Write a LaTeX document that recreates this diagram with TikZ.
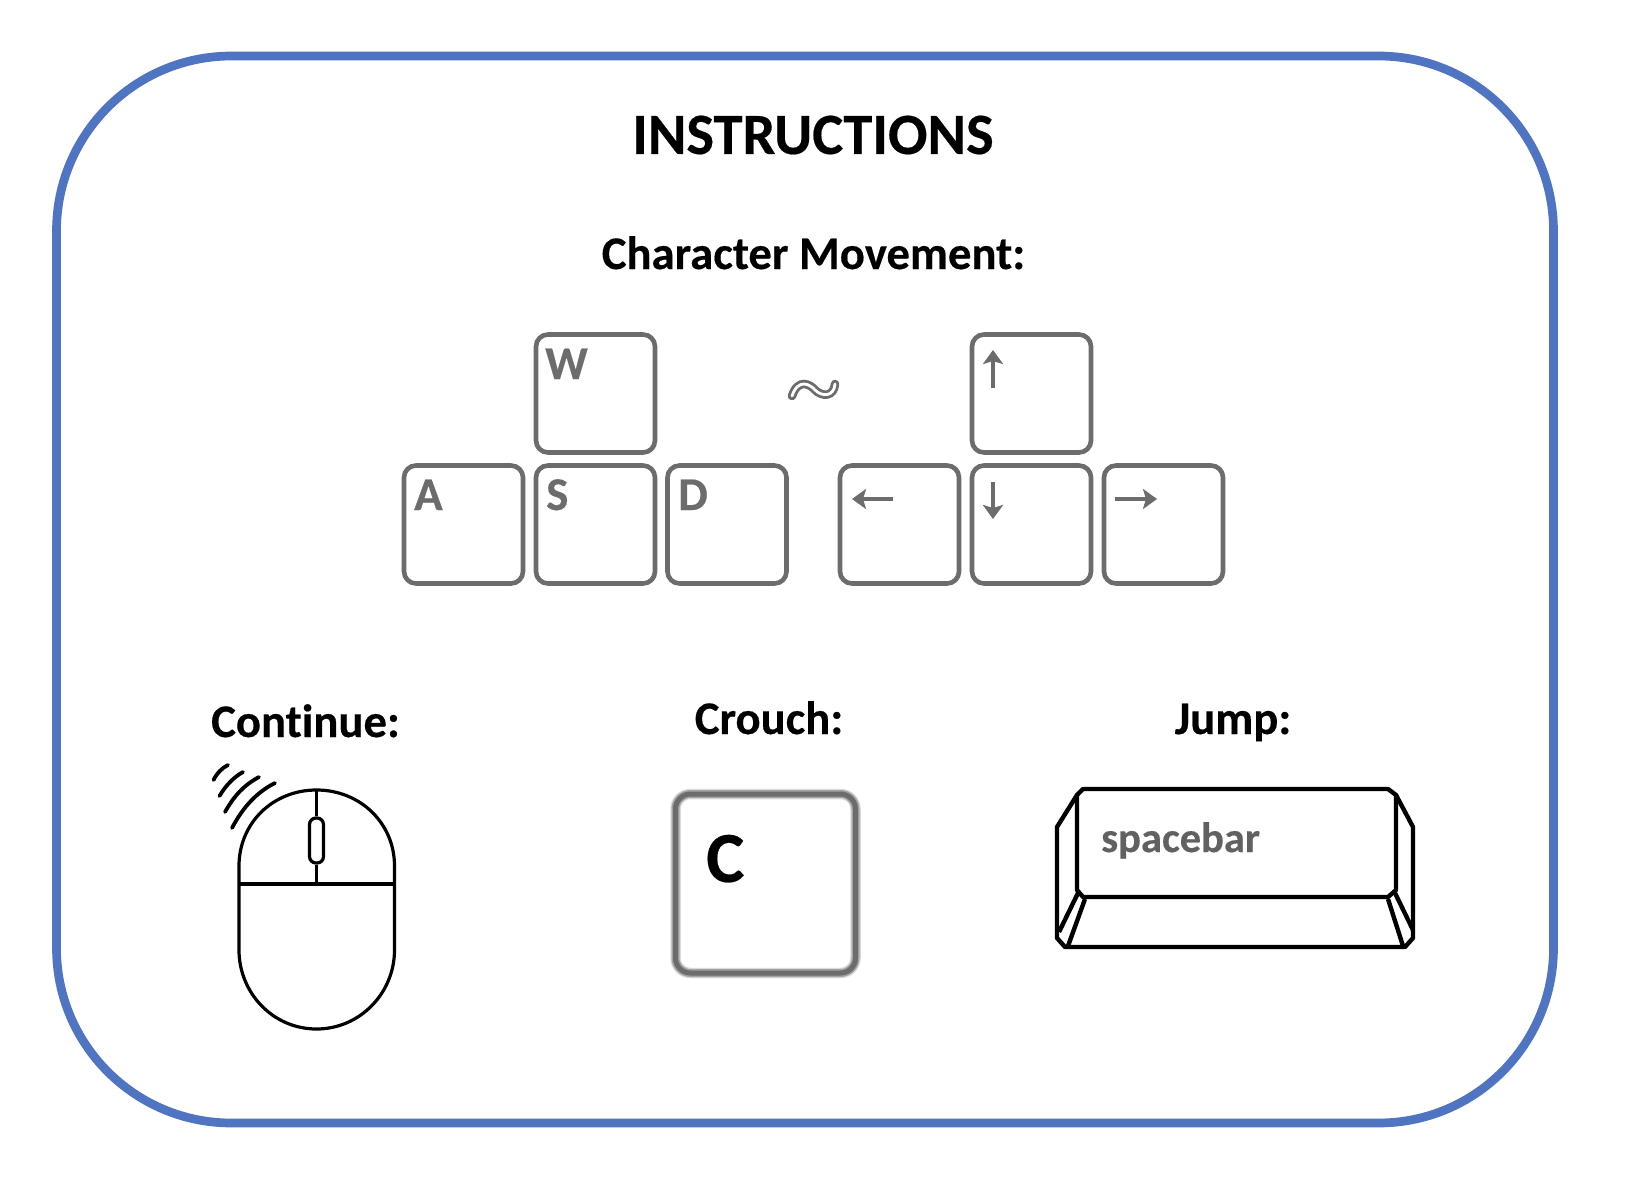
\documentclass[tikz,border=0pt]{standalone}
\usepackage{fontspec}
\setmainfont[Ligatures=NoCommon,BoldFeatures={FakeBold=0.35}]{Carlito}
\usetikzlibrary{arrows.meta}
\definecolor{frameblue}{HTML}{4F74C2}
\definecolor{keygray}{HTML}{6C6C6C}
\tikzset{
  x=1pt,y=-1pt,
  framebox/.style={draw=frameblue,line width=8.7pt,rounded corners=175pt,minimum width=1497pt,minimum height=1067pt,inner sep=0pt},
  heading/.style={font=\fontsize{#1}{#1}\selectfont\bfseries,text=black,inner sep=0pt,anchor=base},
  keybox/.style={draw=keygray,line width=4.6pt,rounded corners=12pt,minimum width=119pt,minimum height=118pt,inner sep=0pt,fill=white},
  keylabel/.style={font=\fontsize{47}{47}\selectfont\bfseries,text=keygray,inner sep=0pt,anchor=base west},
  keyarrow/.style={draw=keygray,line width=4.2pt,-{Stealth[length=14pt,width=20pt,inset=3pt]}},
  mouseline/.style={draw=black,line width=3.2pt},
  wave/.style={draw=black,line width=3.8pt,line cap=round},
  spaceline/.style={draw=black,line width=4.4pt,line join=round},
}
\begin{document}
\begin{tikzpicture}
\useasboundingbox[fill=white] (0,0) rectangle (1626,1188);
\node[framebox] (frame) at (805,589.5) {};
\node[heading=58.5] (title) at (813,154) {INSTRUCTIONS};
\node[heading=46.7] (move) at (813.5,269) {Character Movement:};
\node[heading=46.7] (cont) at (305.5,737) {Continue:};
\node[heading=46.7] (crouch) at (769,734) {Crouch:};
\node[heading=46.7] (jump) at (1233,734) {Jump:};
% WASD
\node[keybox] (kw) at (595.5,393.5) {};
\node[keybox] (ka) at (463.5,524.5) {};
\node[keybox] (ks) at (595.5,524.5) {};
\node[keybox] (kd) at (727,524.5) {};
\node[keylabel] (lw) at (545,379) {W};
\node[keylabel] (la) at (414,510) {A};
\node[keylabel] (ls) at (546,510) {S};
\node[keylabel] (ld) at (678,510) {D};
% arrows
\node[keybox] (ku) at (1031.5,393.5) {};
\node[keybox] (kl) at (899.5,524.5) {};
\node[keybox] (kb) at (1031.5,524.5) {};
\node[keybox] (kr) at (1163.5,524.5) {};
\coordinate (ua) at (993,388); \coordinate (ub) at (993,350);
\coordinate (ba) at (993,482); \coordinate (bb) at (993,519);
\coordinate (la1) at (893,499); \coordinate (la2) at (852,499);
\coordinate (ra1) at (1115,499); \coordinate (ra2) at (1157,499);
\draw[keyarrow] (ua) -- (ub);
\draw[keyarrow] (ba) -- (bb);
\draw[keyarrow] (la1) -- (la2);
\draw[keyarrow] (ra1) -- (ra2);
% tilde
\draw[keygray,line width=8.5pt,line cap=round] (792,396) .. controls (798,378) and (810,384) .. (815,390) .. controls (822,397) and (834,397) .. (835,384);
\draw[white,line width=2.8pt,line cap=round] (792,396) .. controls (798,378) and (810,384) .. (815,390) .. controls (822,397) and (834,397) .. (835,384);
% mouse
\draw[mouseline] (239,884) -- (239,866) .. controls (239,823) and (273,790) .. (316.5,790) .. controls (360,790) and (394.5,823) .. (394.5,866) -- (394.5,950) .. controls (394.5,993) and (360,1029) .. (316.5,1029) .. controls (273,1029) and (239,993) .. (239,950) -- cycle;
\draw[mouseline] (239,884) -- (394.5,884);
\node[draw=black,line width=3.2pt,rounded corners=6.5pt,minimum width=14pt,minimum height=45pt,inner sep=0pt] (wheel) at (316.5,840.5) {};
\coordinate (mtop) at (316.5,790); \coordinate (mmid) at (316.5,884);
\draw[mouseline] (mtop) -- (wheel.north);
\draw[mouseline] (wheel.south) -- (mmid);
\draw[wave] (213.5,780) .. controls (217,773) and (222,768) .. (228,765);
\draw[wave] (219.5,796) .. controls (226,785) and (234,777) .. (243,772);
\draw[wave] (225,812) .. controls (234,796) and (244,785) .. (259,777);
\draw[wave] (232,828) .. controls (243,807) and (257,792) .. (275,783);
% C key
\draw[keygray,opacity=.25,line width=10.5pt,rounded corners=15pt] (675.5,794) rectangle (855.5,973);
\draw[keygray,opacity=.5,line width=8pt,rounded corners=15pt] (675.5,794) rectangle (855.5,973);
\node[draw=keygray,line width=5pt,rounded corners=15pt,minimum width=180pt,minimum height=179pt,inner sep=0pt] (kc) at (765.5,883.5) {};
\node[font=\fontsize{72}{72}\selectfont\bfseries,text=black,inner sep=0pt,anchor=base west] (lc) at (706,882) {C};
% spacebar
\draw[spaceline] (1083,789) -- (1388,789) -- (1396,795) -- (1413,827) -- (1413,938) -- (1405,947) -- (1065,947) -- (1057,938) -- (1057,827) -- (1077,795) -- cycle;
\draw[spaceline] (1077,795) -- (1077,890) -- (1083,897) -- (1388,897) -- (1396,890) -- (1396,795);
\draw[spaceline] (1078,893) -- (1059,932);
\draw[spaceline] (1085,899) -- (1068,946);
\draw[spaceline] (1395,893) -- (1413,930);
\draw[spaceline] (1388,899) -- (1403,946);
\node[font=\fontsize{42.5}{42.5}\selectfont\bfseries,text=keygray!90!black,inner sep=0pt,anchor=base west] (ls2) at (1101,852) {spacebar};
\end{tikzpicture}
\end{document}
